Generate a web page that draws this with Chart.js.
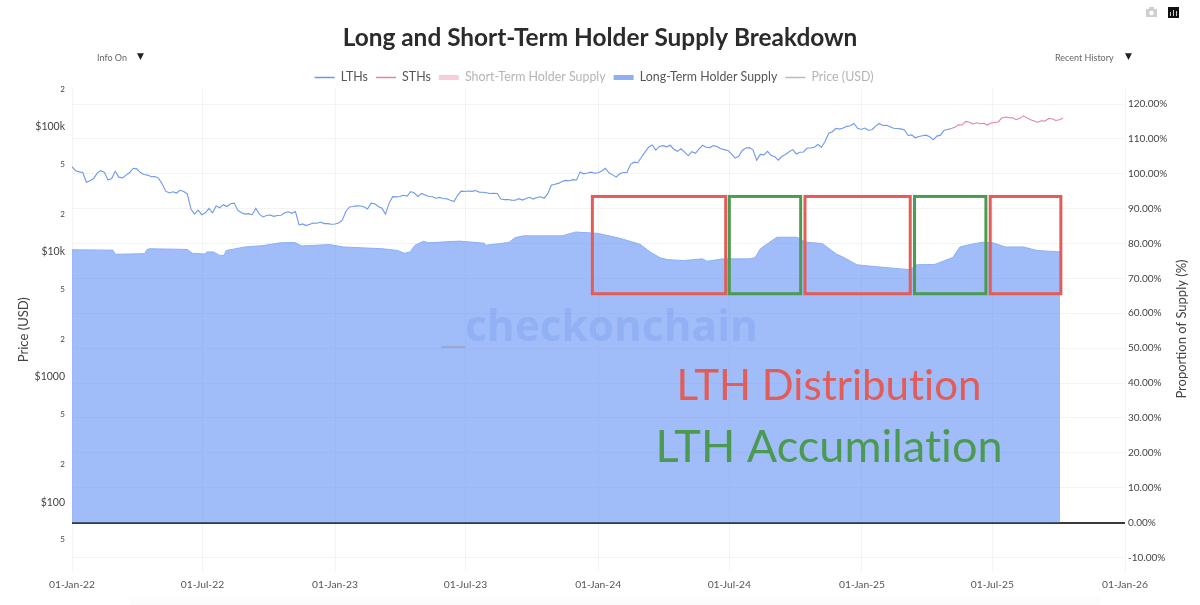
<!DOCTYPE html>
<html>
<head>
<meta charset="utf-8">
<title>Long and Short-Term Holder Supply Breakdown</title>
<script src="https://cdn.jsdelivr.net/npm/chart.js@4/dist/chart.umd.min.js"></script>
<style>
    html, body { margin: 0; padding: 0; background: #fff; }
    canvas { display: block; }
</style>
</head>
<body>
<canvas id="supply-chart" width="1200" height="605"></canvas>
<script>
const START_DATE = '2022-01-01';
const DAY_MS = 86400000;

// BTC price sampled every 5 days, split where the line changes colour
const SAMPLE_STEP_DAYS = 5;
const lthPrices = [
    47900, 44500, 43500, 43000, 36000, 37000, 38500, 42500, 44500, 43000,
    37500, 38500, 44000, 39500, 39000, 41000, 43000, 46500, 46000, 43000,
    41500, 41000, 39800, 40000, 38800, 35000, 30500, 29500, 30200, 29500,
    31000, 30300, 29000, 22000, 20000, 21500, 19800, 20500, 22200, 20500,
    23200, 22500, 23800, 23000, 24200, 24500, 21500, 20500, 20000, 20200,
    19800, 22300, 20000, 19000, 19500, 19700, 19200, 19500, 19600, 20500,
    20900, 20300, 21000, 16400, 16700, 16200, 16600, 17000, 16900, 17300,
    16800, 16800, 16600, 16700, 17000, 17900, 21000, 22800, 23000, 23300,
    23200, 22900, 22000, 24500, 24200, 23000, 22300, 20000, 24500, 27600,
    27500, 27700, 28300, 27900, 30300, 29500, 27700, 29300, 28500, 27700,
    27500, 26800, 27200, 26700, 26500, 25800, 25200, 28300, 30500, 30300,
    30600, 30400, 30900, 30000, 29900, 29600, 29200, 29400, 29200, 26400,
    26100, 26200, 25900, 25800, 26600, 25900, 26700, 27300, 26400, 27200,
    27500, 26800, 29000, 34000, 34600, 35200, 36500, 37200, 37000, 37700,
    37500, 43500, 42000, 42600, 43300, 42500, 42800, 44200, 46500, 42800,
    41200, 39500, 42000, 43000, 43000, 50000, 52000, 51500, 57000, 62500,
    68500, 71500, 65000, 69500, 70500, 69000, 71000, 66000, 63500, 66500,
    62500, 58500, 63000, 61300, 66500, 71000, 68500, 68000, 70500, 69500,
    66500, 65500, 64500, 60500, 56000, 58000, 64500, 67500, 68000, 65000,
    54000, 60000, 59500, 63500, 59000, 57500, 54000, 58000, 60000, 63000,
    65500, 60500, 62500, 62800, 67500, 67500, 68500, 72000, 68500, 76500,
    88500, 91000, 97000, 95500, 97500, 100500, 101500, 106000, 97000, 95000,
    97500, 93500, 94500, 101000, 106000, 102000, 102500, 100000, 97000, 96500,
    96000, 94000, 85000, 86000, 81500, 83500, 84500, 85500, 83000, 78500,
    84000, 85500, 93500, 95000, 96500
];
const sthPrices = [
    96500, 99000, 103500, 103000, 110000, 108500, 105000, 107500, 105500, 106500,
    103000, 107000, 108000, 109000, 117000, 119500, 118000, 117500, 113500, 116500,
    122000, 117500, 113500, 111000, 108500, 111500, 111000, 116000, 115500, 112000,
    113500, 116500
];

// Long-term holder share of supply: days since START_DATE and percent
const supplyDays = [
    0, 57, 60, 101, 104, 108, 160, 167, 185, 187, 196, 205, 211, 214, 240, 265,
    289, 309, 319, 357, 377, 431, 452, 461, 469, 476, 488, 494, 537, 572, 574,
    606, 615, 627, 680, 699, 730, 760, 788, 802, 816, 826, 848, 875, 881, 903,
    941, 948, 955, 966, 978, 1006, 1017, 1041, 1061, 1070, 1089, 1103, 1135,
    1163, 1172, 1197, 1222, 1232, 1246, 1264, 1278, 1295, 1320, 1339, 1371
];
const supplyPct = [
    78.2, 78.1, 76.9, 77.1, 78.3, 78.5, 78.3, 77.2, 77.0, 77.6, 77.6, 76.6, 76.6, 78.0, 79.0, 79.4,
    80.2, 80.3, 79.3, 79.7, 79.0, 78.5, 78.0, 77.2, 77.6, 79.5, 80.7, 80.2, 80.7, 80.1, 79.5,
    80.3, 81.7, 82.2, 82.2, 83.3, 82.9, 81.5, 79.8, 77.6, 75.9, 75.4, 75.1, 75.6, 74.9, 75.6,
    75.6, 76.0, 78.5, 80.1, 81.8, 81.8, 80.4, 80.0, 76.9, 76.1, 73.9, 73.6, 73.0,
    72.5, 73.9, 74.0, 76.0, 79.0, 79.7, 80.4, 80.2, 79.0, 79.0, 78.0, 77.6
];

// Highlighted distribution / accumulation windows
const regionStarts = ['2023-12-24', '2024-07-01', '2024-10-14', '2025-03-15', '2025-06-28'];
const regionEnds = ['2024-06-26', '2024-10-08', '2025-03-09', '2025-06-22', '2025-10-04'];
const regionKinds = ['dist', 'acc', 'dist', 'acc', 'dist'];
const regionTopPct = 93.5;
const regionBottomPct = 65.6;

const xTickDates = ['2022-01-01', '2022-07-01', '2023-01-01', '2023-07-01', '2024-01-01', '2024-07-01', '2025-01-01', '2025-07-01', '2026-01-01'];
const xTickLabels = ['01-Jan-22', '01-Jul-22', '01-Jan-23', '01-Jul-23', '01-Jan-24', '01-Jul-24', '01-Jan-25', '01-Jul-25', '01-Jan-26'];
const priceTicks = [200000, 100000, 50000, 20000, 10000, 5000, 2000, 1000, 500, 200, 100, 50];
const priceTickLabels = ['2', '$100k', '5', '2', '$10k', '5', '2', '$1000', '5', '2', '$100', '5'];
const supplyTicks = [-10, 0, 10, 20, 30, 40, 50, 60, 70, 80, 90, 100, 110, 120];

const BLUE = 'rgb(110, 152, 238)';
const PINK = 'rgb(228, 132, 162)';
const FILL = 'rgba(97, 145, 245, 0.6)';
const RED = 'rgb(226, 92, 88)';
const GREEN = 'rgb(76, 154, 82)';
const FONT = 'Lato, sans-serif';

const startMs = Date.parse(START_DATE);
const dayToMs = d => startMs + d * DAY_MS;

const lthPoints = lthPrices.map((y, i) => ({ x: dayToMs(i * SAMPLE_STEP_DAYS), y }));
const sthOffset = lthPrices.length - 1;
const sthPoints = sthPrices.map((y, i) => ({ x: dayToMs((i + sthOffset) * SAMPLE_STEP_DAYS), y }));
const supplyPoints = supplyPct.map((y, i) => ({ x: dayToMs(supplyDays[i]), y }));

// Text and shapes the chart has no option for: boxes, watermark, dropdowns, icons
const overlayPlugin = {
    id: 'overlays',
    beforeInit(chart) {
        const legend = chart.legend;

        // tighten the gap under the legend
        const fit = legend.fit;
        legend.fit = function () {
            fit.call(this);
            this.height -= 5;
        };

        // legend sits a little left of the page centre
        const draw = legend.draw;
        legend.draw = function () {
            chart.ctx.save();
            chart.ctx.translate(-6, 0);
            draw.call(this);
            chart.ctx.restore();
        };
    },
    afterDatasetsDraw(chart) {
        const { ctx, scales } = chart;
        const x = scales.x, y = scales.ySupply;
        ctx.save();

        // soft shadow along the bottom edge of the page
        const shadow = ctx.createLinearGradient(0, 594, 0, 605);
        shadow.addColorStop(0, 'rgba(0, 0, 0, 0)');
        shadow.addColorStop(1, 'rgba(0, 0, 0, 0.02)');
        ctx.fillStyle = shadow;
        ctx.fillRect(130, 594, 970, 11);

        // watermark
        ctx.textBaseline = 'middle';
        ctx.textAlign = 'left';
        ctx.font = 'bold 42.4px "Open Sans", sans-serif';
        ctx.fillStyle = 'rgba(70, 110, 215, 0.15)';
        ctx.fillText('checkonchain', 465, 329);
        ctx.fillStyle = 'rgba(150, 150, 170, 0.5)';
        ctx.fillRect(441, 346, 24, 2);

        // distribution / accumulation boxes
        ctx.lineWidth = 3;
        regionStarts.forEach((start, i) => {
            const left = x.getPixelForValue(Date.parse(start));
            const right = x.getPixelForValue(Date.parse(regionEnds[i]));
            const top = y.getPixelForValue(regionTopPct);
            const bottom = y.getPixelForValue(regionBottomPct);
            ctx.strokeStyle = regionKinds[i] === 'dist' ? RED : GREEN;
            ctx.strokeRect(left, top, right - left, bottom - top);
        });

        // letterSpacing keeps Lato from joining the "ti" ligature
        ctx.textAlign = 'center';
        ctx.letterSpacing = '0.01px';
        ctx.font = '42px Lato, sans-serif';
        ctx.fillStyle = RED;
        ctx.fillText('LTH Distribution', 829, 386);
        ctx.font = '45px Lato, sans-serif';
        ctx.fillStyle = GREEN;
        ctx.fillText('LTH Accumilation', 829, 447);
        ctx.letterSpacing = '0px';

        // right axis title reads upwards, which the scale title can't do
        ctx.save();
        ctx.translate(1182, 329);
        ctx.rotate(-Math.PI / 2);
        ctx.font = '13px ' + FONT;
        ctx.fillStyle = '#444';
        ctx.fillText('Proportion of Supply (%)', 0, 0);
        ctx.restore();

        // dropdowns
        ctx.font = '9px ' + FONT;
        ctx.fillStyle = '#666';
        ctx.textAlign = 'left';
        ctx.fillText('Info On', 97, 58);
        ctx.fillText('Recent History', 1055, 58);
        ctx.fillStyle = '#222';
        ctx.font = '9px "DejaVu Sans", sans-serif';
        ctx.fillText('▼', 137, 57);
        ctx.fillText('▼', 1125, 57);

        // camera icon
        ctx.fillStyle = '#cfcfcf';
        ctx.fillRect(1146, 9, 11, 8);
        ctx.fillRect(1149, 7, 5, 2);
        ctx.fillStyle = '#fff';
        ctx.beginPath();
        ctx.arc(1151.5, 13, 2.2, 0, Math.PI * 2);
        ctx.fill();

        // bars icon
        ctx.fillStyle = '#111';
        ctx.fillRect(1168, 7, 11, 11);
        ctx.fillStyle = '#ccc';
        ctx.fillRect(1170, 12, 1, 4);
        ctx.fillRect(1173, 10, 1, 6);
        ctx.fillRect(1176, 11, 1, 5);
        ctx.restore();
    }
};

new Chart(document.getElementById('supply-chart'), {
    type: 'line',
    data: {
        datasets: [
            { label: 'LTHs', data: lthPoints, yAxisID: 'yPrice', borderColor: BLUE, borderWidth: 1.1, pointRadius: 0, tension: 0, order: 1 },
            { label: 'STHs', data: sthPoints, yAxisID: 'yPrice', borderColor: PINK, borderWidth: 1.1, pointRadius: 0, tension: 0, order: 1 },
            { label: 'Short-Term Holder Supply', data: [], yAxisID: 'ySupply', borderColor: 'rgb(248, 205, 220)', order: 3 },
            { label: 'Long-Term Holder Supply', data: supplyPoints, yAxisID: 'ySupply', borderColor: 'rgb(140, 175, 245)', borderWidth: 1, backgroundColor: FILL, fill: { value: 0 }, pointRadius: 0, tension: 0, order: 2 },
            { label: 'Price (USD)', data: [], yAxisID: 'yPrice', borderColor: '#bbb', order: 3 }
        ]
    },
    options: {
        responsive: false,
        animation: false,
        layout: { padding: { left: 0, right: 0, top: 0, bottom: 6 } },
        plugins: {
            title: {
                display: true,
                text: 'Long and Short-Term Holder Supply Breakdown',
                color: '#2b2b2b',
                font: { family: FONT, size: 24.4, weight: 'bold' },
                padding: { top: 24, bottom: 10 }
            },
            legend: {
                display: true,
                position: 'top',
                labels: {
                    usePointStyle: true,
                    pointStyleWidth: 20,
                    boxHeight: 12,
                    padding: 8,
                    font: { family: FONT, size: 12.4 },
                    generateLabels(chart) {
                        return chart.data.datasets.map((ds, i) => {
                            const thick = i === 2 || i === 3;
                            const muted = i === 2 || i === 4;
                            return {
                                text: ds.label,
                                datasetIndex: i,
                                pointStyle: 'line',
                                strokeStyle: ds.borderColor,
                                fillStyle: ds.borderColor,
                                lineWidth: thick ? 5 : 1.5,
                                fontColor: muted ? '#b4b4b4' : '#555'
                            };
                        });
                    }
                }
            },
            tooltip: { enabled: false }
        },
        scales: {
            x: {
                type: 'linear',
                min: Date.parse('2022-01-01'),
                max: Date.parse('2026-01-01'),
                afterBuildTicks: axis => { axis.ticks = xTickDates.map(d => ({ value: Date.parse(d) })); },
                ticks: {
                    autoSkip: false,
                    maxRotation: 0,
                    padding: 8,
                    color: '#555',
                    font: { family: FONT, size: 10.3 },
                    callback: value => xTickLabels[xTickDates.findIndex(d => Date.parse(d) === value)]
                },
                grid: { color: '#f3f3f3', drawTicks: false },
                border: { display: false }
            },
            yPrice: {
                type: 'logarithmic',
                position: 'left',
                min: 28.4,
                max: 201000,
                afterBuildTicks: axis => { axis.ticks = priceTicks.map(value => ({ value })); },
                afterFit: axis => { axis.width = 72; },
                title: { display: true, text: 'Price (USD)', color: '#444', font: { family: FONT, size: 13 }, padding: { top: 16, bottom: 0 } },
                ticks: {
                    autoSkip: false,
                    padding: 7,
                    color: '#444',
                    font: ctx => ({ family: FONT, size: String(ctx.tick.value)[0] === '1' ? 10.5 : 8 }),
                    callback: value => priceTickLabels[priceTicks.indexOf(value)]
                },
                grid: { display: false, drawTicks: false },
                border: { display: false }
            },
            ySupply: {
                type: 'linear',
                position: 'right',
                min: -13.8,
                max: 124.4,
                afterBuildTicks: axis => { axis.ticks = supplyTicks.map(value => ({ value })); },
                afterFit: axis => { axis.width = 75; },
                ticks: {
                    autoSkip: false,
                    padding: 3,
                    color: '#444',
                    font: { family: FONT, size: 10 },
                    callback: value => value.toFixed(2) + '%'
                },
                grid: {
                    drawTicks: false,
                    color: ctx => ctx.tick.value === 0 ? '#3b3b3b' : '#f3f3f3',
                    lineWidth: ctx => ctx.tick.value === 0 ? 2 : 1
                },
                border: { display: false }
            }
        }
    },
    plugins: [overlayPlugin]
});
</script>
</body>
</html>
